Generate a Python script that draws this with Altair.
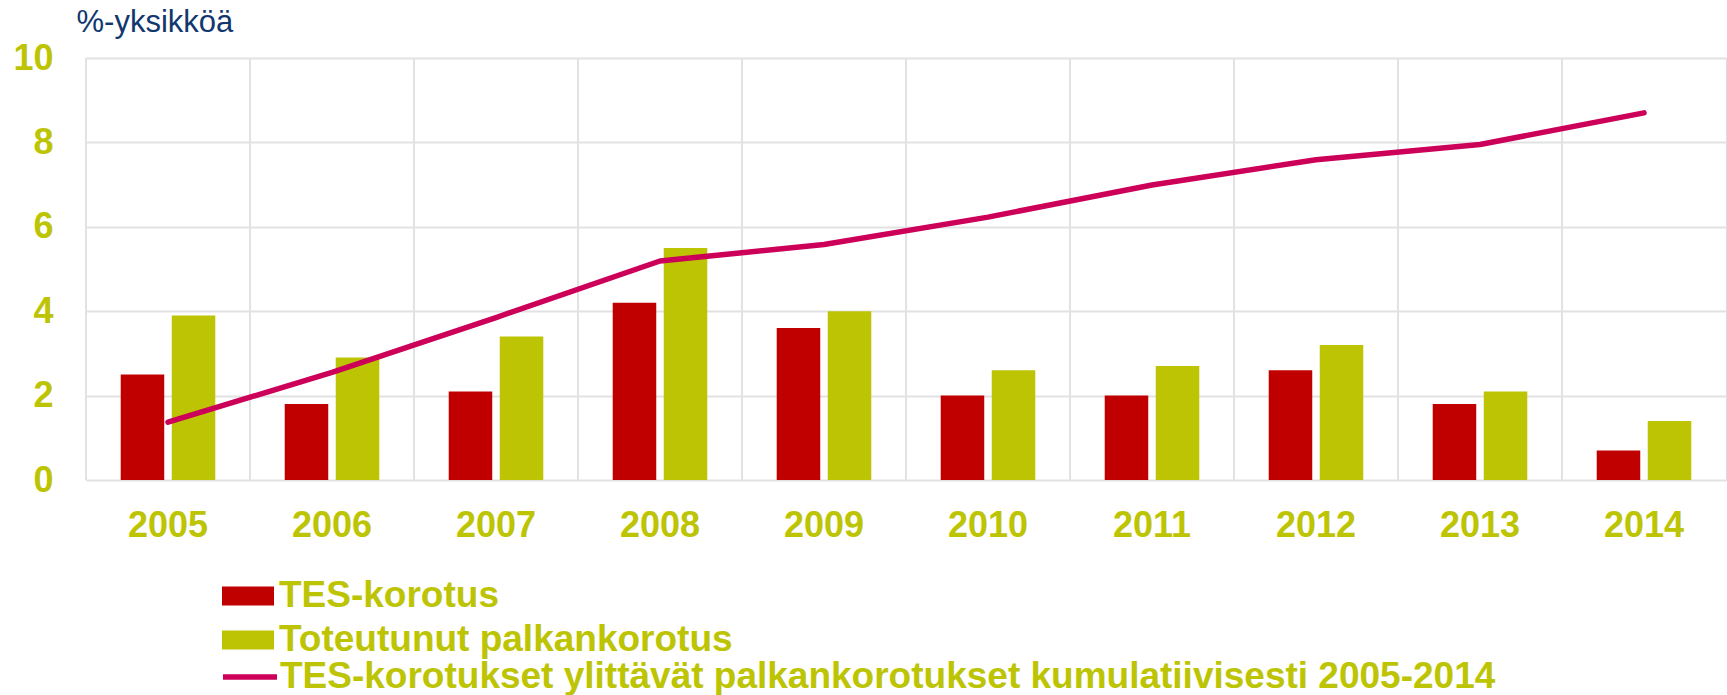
import altair as alt
import pandas as pd

years = ["2005", "2006", "2007", "2008", "2009", "2010", "2011", "2012", "2013", "2014"]
tes = [2.5, 1.8, 2.1, 4.2, 3.6, 2.0, 2.0, 2.6, 1.8, 0.7]
palkka = [3.9, 2.9, 3.4, 5.5, 4.0, 2.6, 2.7, 3.2, 2.1, 1.4]
kumul = [1.37, 2.55, 3.85, 5.19, 5.58, 6.23, 6.99, 7.59, 7.95, 8.70]
y_ticks = [0, 2, 4, 6, 8, 10]

S1 = "TES-korotus"
S2 = "Toteutunut palkankorotus"
S3 = "TES-korotukset ylittävät palkankorotukset kumulatiivisesti 2005-2014"

bars_df = pd.DataFrame({"vuosi": years * 2, "sarja": [S1] * len(years) + [S2] * len(years), "arvo": tes + palkka})
line_df = pd.DataFrame({"vuosi": years, "sarja": [S3] * len(years), "arvo": kumul})
grid_df = pd.DataFrame({"vuosi": years})

FONT = "Liberation Sans"
GREEN = "#BCC404"
RED = "#C00000"
PINK = "#CC0058"
GRID = "#E2E2E2"
NAVY = "#12376F"

x_scale = alt.Scale(domain=years, paddingInner=0, paddingOuter=0)
y_scale = alt.Scale(domain=[0, 10], nice=False)

x_axis = alt.Axis(
    title=None, labelAngle=0, ticks=False, domain=False, grid=False,
    labelFont=FONT, labelFontSize=36, labelFontWeight="bold", labelColor=GREEN,
    labelPadding=28)

y_axis = alt.Axis(
    values=y_ticks, title="%-yksikköä", titleAngle=0, titleAlign="left",
    titleBaseline="alphabetic", titleX=-10, titleY=-27,
    titleFont=FONT, titleFontSize=31, titleFontWeight="normal", titleColor=NAVY,
    ticks=False, domain=False, grid=True, gridColor=GRID, gridWidth=2,
    labelFont=FONT, labelFontSize=36, labelFontWeight="bold", labelColor=GREEN,
    labelPadding=33)

vgrid = alt.Chart(grid_df).mark_rule(color=GRID, strokeWidth=2).encode(
    x=alt.X("vuosi:N", scale=x_scale, bandPosition=0, axis=x_axis))

bars = alt.Chart(bars_df).mark_bar().encode(
    x=alt.X("vuosi:N", scale=x_scale, axis=x_axis),
    xOffset=alt.XOffset("sarja:N", sort=[S1, S2],
                        scale=alt.Scale(paddingInner=0.147, paddingOuter=0.68)),
    y=alt.Y("arvo:Q", scale=y_scale, axis=y_axis),
    color=alt.Color("sarja:N", scale=alt.Scale(domain=[S1, S2], range=[RED, GREEN]),
                    legend=alt.Legend(
                        title=None, orient="none", legendX=136, legendY=512,
                        symbolType="M-1,-0.365H1V0.365H-1Z", symbolSize=2704,
                        symbolStrokeWidth=0, symbolOpacity=1,
                        labelFont=FONT, labelFontSize=37, labelFontWeight="bold",
                        labelColor=GREEN, labelLimit=1500, labelOffset=5,
                        rowPadding=-7)),
)

line = alt.Chart(line_df).mark_line(strokeWidth=5.5, strokeCap="round", strokeJoin="round").encode(
    x=alt.X("vuosi:N", scale=x_scale, axis=x_axis),
    y=alt.Y("arvo:Q", scale=y_scale, axis=y_axis),
    stroke=alt.Stroke("sarja:N", scale=alt.Scale(domain=[S3], range=[PINK]),
                      legend=alt.Legend(
                          title=None, orient="none", legendX=134, legendY=589,
                          symbolType="stroke", symbolSize=2916, symbolStrokeWidth=5.5,
                          labelFont=FONT, labelFontSize=37, labelFontWeight="bold",
                          labelColor=GREEN, labelLimit=1500, labelOffset=0)),
)

chart = alt.layer(vgrid, bars, line).properties(
    width=1640, height=422,
    autosize=alt.AutoSizeParams(type="none"),
    padding={"left": 86, "top": 58, "right": 1, "bottom": 215},
).configure_view(stroke=GRID, strokeWidth=2).configure(background="white")

chart.save("out.html", embed_options={"renderer": "svg", "actions": False})
